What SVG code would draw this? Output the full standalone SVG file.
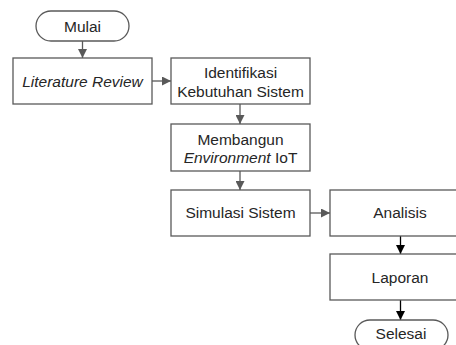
<svg xmlns="http://www.w3.org/2000/svg" width="456" height="345" viewBox="0 0 456 345">
<defs>
<style>
.box{fill:#fff;stroke:#595959;stroke-width:1.3}
.t{font-family:"Liberation Sans",Arial,sans-serif;font-size:15.5px;fill:#262626;text-anchor:middle}
.i{font-style:italic}
.c{fill:none;stroke:#595959;stroke-width:1.3}
.k{fill:none;stroke:#000;stroke-width:1.3}
</style>
<marker id="ag" markerUnits="userSpaceOnUse" markerWidth="10" markerHeight="9" refX="9" refY="4.5" orient="auto"><path d="M0,0 L9,4.5 L0,9 z" fill="#595959"/></marker>
<marker id="ak" markerUnits="userSpaceOnUse" markerWidth="10" markerHeight="9" refX="9" refY="4.5" orient="auto"><path d="M0,0 L9,4.5 L0,9 z" fill="#000"/></marker>
</defs>
<rect width="456" height="345" fill="#fff"/>
<g id="connectors">
<line class="c" x1="82.5" y1="41" x2="82.5" y2="58" marker-end="url(#ag)"/>
<line class="c" x1="152" y1="81" x2="171" y2="81" marker-end="url(#ag)"/>
<line class="c" x1="240" y1="104" x2="240" y2="124" marker-end="url(#ag)"/>
<line class="c" x1="240" y1="171" x2="240" y2="190" marker-end="url(#ag)"/>
<line class="c" x1="310" y1="213" x2="330" y2="213" marker-end="url(#ag)"/>
<line class="k" x1="400.5" y1="236" x2="400.5" y2="254" marker-end="url(#ak)"/>
<line class="k" x1="400.5" y1="300" x2="400.5" y2="320" marker-end="url(#ak)"/>
</g>
<g id="mulai">
<rect class="box" x="36" y="11" width="93" height="30" rx="15"/>
<text class="t" x="82.5" y="31.5">Mulai</text>
</g>
<g id="literature">
<rect class="box" x="13" y="58" width="139" height="46"/>
<text class="t i" x="82.5" y="87">Literature Review</text>
</g>
<g id="identifikasi">
<rect class="box" x="171" y="58" width="139" height="46"/>
<text class="t" x="240.5" y="78">Identifikasi</text>
<text class="t" x="240.5" y="96.5">Kebutuhan Sistem</text>
</g>
<g id="membangun">
<rect class="box" x="171" y="124" width="139" height="47"/>
<text class="t" x="240.5" y="145">Membangun</text>
<text class="t" x="240.5" y="162.5"><tspan class="i">Environment</tspan> IoT</text>
</g>
<g id="simulasi">
<rect class="box" x="171" y="190" width="139" height="46"/>
<text class="t" x="240.5" y="218">Simulasi Sistem</text>
</g>
<g id="analisis">
<rect class="box" x="330" y="190" width="139" height="46"/>
<text class="t" x="400" y="218">Analisis</text>
</g>
<g id="laporan">
<rect class="box" x="330" y="254" width="139" height="46"/>
<text class="t" x="400" y="283">Laporan</text>
</g>
<g id="selesai">
<rect class="box" x="355" y="320" width="93" height="30" rx="15"/>
<text class="t" x="401" y="339">Selesai</text>
</g>
</svg>
